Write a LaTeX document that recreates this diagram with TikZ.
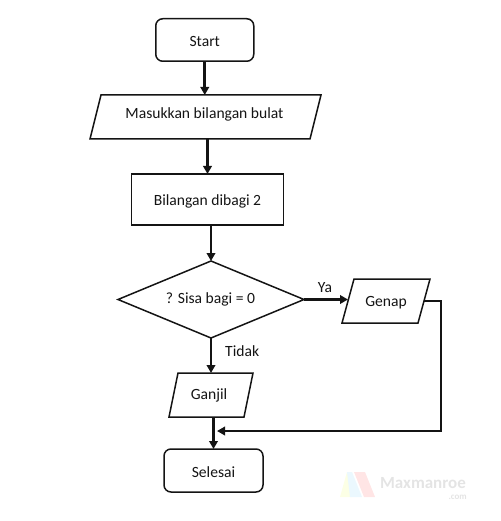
\documentclass[tikz,border=0pt]{standalone}
\usepackage{fontspec}
\setmainfont{Carlito}
\usetikzlibrary{arrows.meta, positioning, shapes.geometric, calc}
\definecolor{flowblack}{RGB}{20,20,20}
\definecolor{marktext}{RGB}{228,228,228}

\begin{document}
\begin{tikzpicture}[
    x=1pt, y=-1pt,
    terminal/.style={draw=flowblack, line width=1.5pt, rounded corners=7pt, minimum width=98pt, minimum height=42.5pt, outer sep=0pt, inner sep=0pt, text depth=0pt, font=\fontsize{15.6}{17}\selectfont, text=flowblack},
    process/.style={draw=flowblack, line width=1.5pt, minimum width=152pt, minimum height=51pt, outer sep=0pt, inner sep=0pt, text depth=0pt, font=\fontsize{15.6}{17}\selectfont, text=flowblack},
    decision/.style={diamond, draw=flowblack, line width=1.5pt, aspect=2.4, minimum width=186pt, minimum height=77pt, outer sep=0pt, inner sep=0pt, font=\fontsize{15.6}{17}\selectfont, text=flowblack},
    % text box only, the slanted outline comes after the nodes
    data/.style={minimum height=44pt, outer sep=0pt, inner sep=0pt, text depth=0pt, font=\fontsize{15.6}{17}\selectfont, text=flowblack},
    outline/.style={draw=flowblack, line width=1.5pt, line join=miter},
    label/.style={font=\fontsize{15.6}{17}\selectfont, text=flowblack, inner sep=0pt},
    arrow/.style={-{Triangle[length=8pt, width=8.5pt]}, line width=2.6pt, draw=flowblack}
]
    \useasboundingbox (0,0) rectangle (500,521);

    % Main column
    \node[terminal, text height=12.5pt] (start) at (204.75,40) {Start};
    \node[data, minimum width=220pt, text height=3.5pt] (input) at (205.5,117) {\hspace*{-2pt}Masukkan bilangan bulat};
    \node[process, text height=11.5pt] (divide) at (207.5,199.5) {Bilangan dibagi 2};
    \node[decision] (check) at (211,299.5) {\hspace*{-1pt}? Sisa bagi = 0};
    \node[data, minimum width=75pt, text height=9.5pt] (odd) at (211,395) {\hspace*{-4pt}Ganjil};
    \node[terminal, minimum width=99pt, minimum height=43pt, text height=13pt] (finish) at (213.5,470.5) {Selesai};

    % Right branch
    \node[data, minimum width=76pt, text height=11.5pt] (even) at (386,301) {Genap};

    % Slanted outlines of the data boxes
    \foreach \name/\slant in {input/5.5, odd/4.5, even/6} {
        \draw[outline] ($(\name.north west)+(\slant,0)$) -- ($(\name.north east)+(\slant,0)$) -- ($(\name.south east)+(-\slant,0)$) -- ($(\name.south west)+(-\slant,0)$) -- cycle;
    }

    % Branch labels
    \node[label] (yes) at (325,288) {Ya};
    \node[label, anchor=west] (no) at (225,351) {Tidak};

    % Connectors
    \coordinate (merge) at (217,431);
    \draw[arrow] (start.south) -- (start.south |- input.north);
    \draw[arrow] (divide.north |- input.south) -- (divide.north);
    \draw[arrow] (check.north |- divide.south) -- (check.north);
    \draw[arrow] (check.east) -- (check.east -| even.west);
    \draw[arrow] (check.south) -- (check.south |- odd.north);
    \draw[arrow] (finish.north |- odd.south) -- (finish.north);
    \draw[arrow] (even.east) -| (441,431) -- (merge);

    % Watermark
    \fill[green!12!yellow!10] (340,497) -- (347,472) -- (352,472) -- (352,497) -- cycle;
    \fill[cyan!8] (347,472) -- (352,472) -- (362,497) -- (350,497) -- cycle;
    \fill[red!10] (354,472) -- (365,472) -- (375,497) -- (364,497) -- cycle;
    \node[font=\bfseries\fontsize{17}{18}\selectfont, text=marktext, inner sep=0pt] (mark) at (423,483) {Maxmanroe};
    \node[font=\bfseries\fontsize{9}{10}\selectfont, text=marktext, inner sep=0pt, anchor=east] (markcom) at (467,497) {.com};
\end{tikzpicture}
\end{document}
